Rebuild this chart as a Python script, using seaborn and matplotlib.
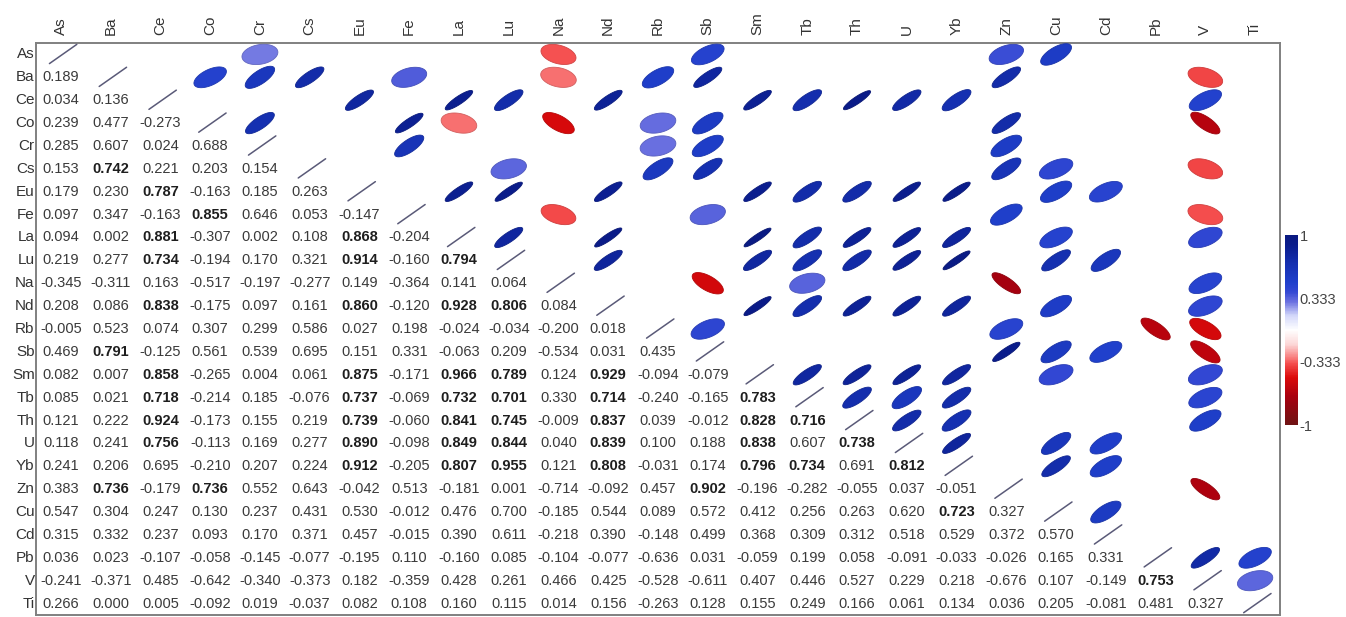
import numpy as np
import pandas as pd
import matplotlib
matplotlib.use("Agg")
import matplotlib.pyplot as plt
import seaborn as sns
from matplotlib.colors import LinearSegmentedColormap, ListedColormap, Normalize
from matplotlib.cm import ScalarMappable
from matplotlib.patches import Polygon

elements = ["As", "Ba", "Ce", "Co", "Cr", "Cs", "Eu", "Fe", "La", "Lu", "Na", "Nd",
            "Rb", "Sb", "Sm", "Tb", "Th", "U", "Yb", "Zn", "Cu", "Cd", "Pb", "V", "Ti"]

# Pearson coefficients below the diagonal, one list per row element
r_As = []
r_Ba = [0.189]
r_Ce = [0.034, 0.136]
r_Co = [0.239, 0.477, -0.273]
r_Cr = [0.285, 0.607, 0.024, 0.688]
r_Cs = [0.153, 0.742, 0.221, 0.203, 0.154]
r_Eu = [0.179, 0.230, 0.787, -0.163, 0.185, 0.263]
r_Fe = [0.097, 0.347, -0.163, 0.855, 0.646, 0.053, -0.147]
r_La = [0.094, 0.002, 0.881, -0.307, 0.002, 0.108, 0.868, -0.204]
r_Lu = [0.219, 0.277, 0.734, -0.194, 0.170, 0.321, 0.914, -0.160, 0.794]
r_Na = [-0.345, -0.311, 0.163, -0.517, -0.197, -0.277, 0.149, -0.364, 0.141, 0.064]
r_Nd = [0.208, 0.086, 0.838, -0.175, 0.097, 0.161, 0.860, -0.120, 0.928, 0.806, 0.084]
r_Rb = [-0.005, 0.523, 0.074, 0.307, 0.299, 0.586, 0.027, 0.198, -0.024, -0.034, -0.200, 0.018]
r_Sb = [0.469, 0.791, -0.125, 0.561, 0.539, 0.695, 0.151, 0.331, -0.063, 0.209, -0.534, 0.031,
        0.435]
r_Sm = [0.082, 0.007, 0.858, -0.265, 0.004, 0.061, 0.875, -0.171, 0.966, 0.789, 0.124, 0.929,
        -0.094, -0.079]
r_Tb = [0.085, 0.021, 0.718, -0.214, 0.185, -0.076, 0.737, -0.069, 0.732, 0.701, 0.330, 0.714,
        -0.240, -0.165, 0.783]
r_Th = [0.121, 0.222, 0.924, -0.173, 0.155, 0.219, 0.739, -0.060, 0.841, 0.745, -0.009, 0.837,
        0.039, -0.012, 0.828, 0.716]
r_U = [0.118, 0.241, 0.756, -0.113, 0.169, 0.277, 0.890, -0.098, 0.849, 0.844, 0.040, 0.839,
       0.100, 0.188, 0.838, 0.607, 0.738]
r_Yb = [0.241, 0.206, 0.695, -0.210, 0.207, 0.224, 0.912, -0.205, 0.807, 0.955, 0.121, 0.808,
        -0.031, 0.174, 0.796, 0.734, 0.691, 0.812]
r_Zn = [0.383, 0.736, -0.179, 0.736, 0.552, 0.643, -0.042, 0.513, -0.181, 0.001, -0.714, -0.092,
        0.457, 0.902, -0.196, -0.282, -0.055, 0.037, -0.051]
r_Cu = [0.547, 0.304, 0.247, 0.130, 0.237, 0.431, 0.530, -0.012, 0.476, 0.700, -0.185, 0.544,
        0.089, 0.572, 0.412, 0.256, 0.263, 0.620, 0.723, 0.327]
r_Cd = [0.315, 0.332, 0.237, 0.093, 0.170, 0.371, 0.457, -0.015, 0.390, 0.611, -0.218, 0.390,
        -0.148, 0.499, 0.368, 0.309, 0.312, 0.518, 0.529, 0.372, 0.570]
r_Pb = [0.036, 0.023, -0.107, -0.058, -0.145, -0.077, -0.195, 0.110, -0.160, 0.085, -0.104, -0.077,
        -0.636, 0.031, -0.059, 0.199, 0.058, -0.091, -0.033, -0.026, 0.165, 0.331]
r_V = [-0.241, -0.371, 0.485, -0.642, -0.340, -0.373, 0.182, -0.359, 0.428, 0.261, 0.466, 0.425,
       -0.528, -0.611, 0.407, 0.446, 0.527, 0.229, 0.218, -0.676, 0.107, -0.149, 0.753]
r_Ti = [0.266, 0.000, 0.005, -0.092, 0.019, -0.037, 0.082, 0.108, 0.160, 0.115, 0.014, 0.156,
        -0.263, 0.128, 0.155, 0.249, 0.166, 0.061, 0.134, 0.036, 0.205, -0.081, 0.481, 0.327]

# significant pairs, drawn as ellipses above the diagonal (row -> columns)
significant = {
    "As": ["Cr", "Na", "Sb", "Zn", "Cu"],
    "Ba": ["Co", "Cr", "Cs", "Fe", "Na", "Rb", "Sb", "Zn", "V"],
    "Ce": ["Eu", "La", "Lu", "Nd", "Sm", "Tb", "Th", "U", "Yb", "V"],
    "Co": ["Cr", "Fe", "La", "Na", "Rb", "Sb", "Zn", "V"],
    "Cr": ["Fe", "Rb", "Sb", "Zn"],
    "Cs": ["Lu", "Rb", "Sb", "Zn", "Cu", "V"],
    "Eu": ["La", "Lu", "Nd", "Sm", "Tb", "Th", "U", "Yb", "Cu", "Cd"],
    "Fe": ["Na", "Sb", "Zn", "V"],
    "La": ["Lu", "Nd", "Sm", "Tb", "Th", "U", "Yb", "Cu", "V"],
    "Lu": ["Nd", "Sm", "Tb", "Th", "U", "Yb", "Cu", "Cd"],
    "Na": ["Sb", "Tb", "Zn", "V"],
    "Nd": ["Sm", "Tb", "Th", "U", "Yb", "Cu", "V"],
    "Rb": ["Sb", "Zn", "Pb", "V"],
    "Sb": ["Zn", "Cu", "Cd", "V"],
    "Sm": ["Tb", "Th", "U", "Yb", "Cu", "V"],
    "Tb": ["Th", "U", "Yb", "V"],
    "Th": ["U", "Yb", "V"],
    "U": ["Yb", "Cu", "Cd"],
    "Yb": ["Cu", "Cd"],
    "Zn": ["V"],
    "Cu": ["Cd"],
    "Pb": ["V", "Ti"],
    "V": ["Ti"],
}

cbar_ticks = [1, 0.333, -0.333, -1]
cbar_labels = ["1", "0.333", "-0.333", "-1"]

# ---- assemble the symmetric matrix ----
rows = [r_As, r_Ba, r_Ce, r_Co, r_Cr, r_Cs, r_Eu, r_Fe, r_La, r_Lu, r_Na, r_Nd, r_Rb, r_Sb,
        r_Sm, r_Tb, r_Th, r_U, r_Yb, r_Zn, r_Cu, r_Cd, r_Pb, r_V, r_Ti]
n = len(elements)
corr = np.eye(n)
for i, vals in enumerate(rows):
    corr[i, :i] = vals
    corr[:i, i] = vals
df = pd.DataFrame(corr, index=elements, columns=elements)

sns.set_style("white")
plt.rcParams["font.family"] = ["Liberation Sans", "DejaVu Sans"]

cmap = LinearSegmentedColormap.from_list("rb", [
    (0.000, "#6e1414"),
    (0.150, "#a8000f"),
    (0.250, "#dc0a0a"),
    (0.325, "#f55050"),
    (0.350, "#f87878"),
    (0.425, "#fcd8d8"),
    (0.500, "#ffffff"),
    (0.575, "#d4d8fa"),
    (0.650, "#6a70e0"),
    (0.700, "#3448d4"),
    (0.750, "#2040cc"),
    (0.850, "#1530b0"),
    (0.950, "#0a1c8c"),
    (1.000, "#0a1a80"),
])
norm = Normalize(-1, 1)

W, H = 1346, 617
fig = plt.figure(figsize=(W / 100, H / 100), dpi=100)
x0, x1, y0, y1 = 36, 1280, 43, 615
ax = fig.add_axes([x0 / W, 1 - y1 / H, (x1 - x0) / W, (y1 - y0) / H])

lower_mask = np.triu(np.ones((n, n), dtype=bool))
sns.heatmap(df, mask=lower_mask, cmap=ListedColormap(["white"]), cbar=False,
            annot=True, fmt=".3f",
            annot_kws={"size": 10.5, "color": "#3a3a3a"}, ax=ax)

# strong coefficients in bold
for t in ax.texts:
    try:
        v = float(t.get_text())
    except ValueError:
        continue
    if v > 0.7:
        t.set_fontweight("bold")
        t.set_color("#1e1e1e")

# ellipses: pixel geometry, converted to cell units
cw = (x1 - x0) / n
ch = (y1 - y0) / n
tt = np.linspace(0, 2 * np.pi, 120)


def ellipse_xy(r):
    ar = abs(r)
    a = 19.0 - 3.0 * ar
    b = 12.6 - 9.8 * ar
    frac = min(1.0, max(0.0, (ar - 0.2) / 0.4)) ** 0.8
    th = np.deg2rad(34.0 * frac) * np.sign(r)
    px = a * np.cos(tt) * np.cos(th) - b * np.sin(tt) * np.sin(th)
    py = a * np.cos(tt) * np.sin(th) + b * np.sin(tt) * np.cos(th)
    return px / cw, -py / ch


for rname, cols in significant.items():
    i = elements.index(rname)
    for cname in cols:
        j = elements.index(cname)
        r = corr[i, j]
        ex, ey = ellipse_xy(r)
        col = cmap(norm(r))
        edge = tuple(c * 0.85 for c in col[:3])
        ax.add_patch(Polygon(np.column_stack([ex + j + 0.5, ey + i + 0.5]), closed=True,
                             facecolor=col, edgecolor=edge, lw=0.6, zorder=3))

# diagonal strokes
for k in range(n):
    ax.plot([k + 0.27, k + 0.82], [k + 0.9, k + 0.06], color="#5a5a78", lw=1.1,
            zorder=3, solid_capstyle="round")

ax.set_xlim(0, n)
ax.set_ylim(n, 0)
for s in ax.spines.values():
    s.set_visible(True)
    s.set_color("#808080")
    s.set_linewidth(1.4)

ax.xaxis.tick_top()
ax.set_xticks(np.arange(n) + 0.5)
ax.set_xticklabels(elements, rotation=90, fontsize=11, color="#333333")
ax.set_yticks(np.arange(n) + 0.5)
ax.set_yticklabels(elements, rotation=0, fontsize=11, color="#333333")
ax.tick_params(axis="x", length=0, pad=6)
ax.tick_params(axis="y", length=0, pad=1)
ax.set_xlabel("")
ax.set_ylabel("")

# colour scale
cax = fig.add_axes([1285 / W, 1 - 425 / H, 13 / W, 190 / H])
cb = fig.colorbar(ScalarMappable(norm=norm, cmap=cmap), cax=cax, ticks=cbar_ticks)
cb.set_ticklabels(cbar_labels)
cb.outline.set_visible(False)
cax.tick_params(length=0, pad=1, labelsize=10.5, colors="#444444")

fig.savefig("out.png", dpi=100, facecolor="white")
